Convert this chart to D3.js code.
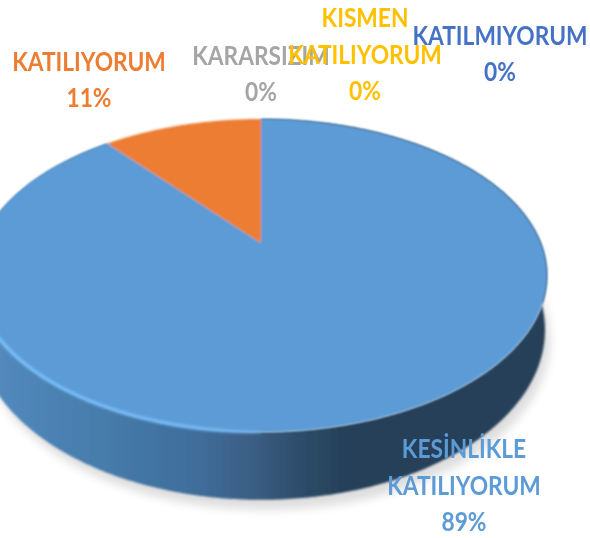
<!DOCTYPE html>
<html>
<head>
<meta charset="utf-8">
<script src="https://cdn.jsdelivr.net/npm/d3@7"></script>
<style>
  html, body { margin: 0; padding: 0; background: #fff; overflow: hidden; }
  text { font-family: Lato, "Open Sans", sans-serif; font-weight: 700; }
</style>
</head>
<body>
<svg id="svgId"></svg>
<script>
const categories = ['KESİNLİKLE KATILIYORUM', 'KATILIYORUM', 'KARARSIZIM', 'KISMEN KATILIYORUM', 'KATILMIYORUM'];
const values = [89, 11, 0, 0, 0];
const colors = ['#5b9bd5', '#ed7d31', '#a5a5a5', '#ffc000', '#4472c4'];

const width = 590;
const height = 538;

// label anchor = centre x and baseline of the last line (the percent)
const labelAnchors = [[464, 531], [89, 107], [261, 101], [365, 100], [500, 81]];
const labelLines = [['KESİNLİKLE', 'KATILIYORUM'], ['KATILIYORUM'], ['KARARSIZIM'], ['KISMEN', 'KATILIYORUM'], ['KATILMIYORUM']];

const svg = d3.select('#svgId').attr('width', width).attr('height', height);
const defs = svg.append('defs');

// perspective disc: unit circle through a small homography
const topDisc = { cx: 261, b: 243, a: 99.3, s: 279.8, k: 0.2077 };
const lowDisc = { cx: 261, b: 294.6, a: 101.4, s: 277.8, k: 0.2077 };

function project(disc, theta) {
    const x = Math.sin(theta);
    const y = -Math.cos(theta);
    const w = 1 - disc.k * y;
    return [disc.cx + disc.s * x / w, (disc.b + disc.a * y) / w];
}

function sampleAngles(a0, a1) {
    const n = Math.max(2, Math.ceil((a1 - a0) / 0.01));
    return d3.range(n + 1).map(i => a0 + (a1 - a0) * i / n);
}

const pie = d3.pie().sort(null).value(d => d);
const arcs = pie(values);
const line = d3.line();

// gradients
const wallGrad = defs.append('linearGradient').attr('id', 'wallGrad')
    .attr('gradientUnits', 'userSpaceOnUse')
    .attr('x1', 0).attr('x2', 340).attr('y1', 0).attr('y2', 0);
[[0, '#5289bd'], [0.3, '#467cab'], [0.6, '#3f6c98'], [0.76, '#3a5c80'], [0.87, '#2e4e6c'], [1, '#27415a']].forEach(s => {
    wallGrad.append('stop').attr('offset', s[0]).attr('stop-color', s[1]);
});

const rimGrad = defs.append('linearGradient').attr('id', 'rimGrad')
    .attr('gradientUnits', 'userSpaceOnUse')
    .attr('x1', 0).attr('x2', 310).attr('y1', 0).attr('y2', 0);
[[0, '#72bcfb', 1], [0.65, '#6fb7f6', 1], [1, '#6fb7f6', 0]].forEach(s => {
    rimGrad.append('stop').attr('offset', s[0]).attr('stop-color', s[1]).attr('stop-opacity', s[2]);
});

defs.append('filter').attr('id', 'shadowBlur')
    .attr('x', '-10%').attr('y', '-10%').attr('width', '120%').attr('height', '120%')
    .append('feGaussianBlur').attr('stdDeviation', 5);
defs.append('filter').attr('id', 'soft')
    .attr('x', '-5%').attr('y', '-5%').attr('width', '110%').attr('height', '110%')
    .append('feGaussianBlur').attr('stdDeviation', 1);
defs.append('filter').attr('id', 'rimBlur')
    .attr('x', '-5%').attr('y', '-5%').attr('width', '110%').attr('height', '110%')
    .append('feGaussianBlur').attr('stdDeviation', 1.5);
defs.append('filter').attr('id', 'textSoft')
    .attr('x', '-5%').attr('y', '-20%').attr('width', '110%').attr('height', '140%')
    .append('feGaussianBlur').attr('stdDeviation', 0.45);

const fullCircle = sampleAngles(0, 2 * Math.PI);

// shadow under the disc
svg.append('path')
    .attr('d', line(fullCircle.map(t => project(lowDisc, t))) + 'Z')
    .attr('transform', 'translate(5, 10)')
    .attr('fill', '#000')
    .attr('opacity', 0.13)
    .attr('filter', 'url(#shadowBlur)');

// side wall of the blue slice
const wallAngles = sampleAngles(arcs[0].startAngle, arcs[0].endAngle);
const wallPoints = wallAngles.map(t => project(topDisc, t))
    .concat(wallAngles.slice().reverse().map(t => project(lowDisc, t)));
svg.append('path')
    .attr('d', line(wallPoints) + 'Z')
    .attr('fill', 'url(#wallGrad)')
    .attr('filter', 'url(#soft)');

// top faces
const slices = svg.append('g').attr('filter', 'url(#soft)');
arcs.forEach((d, i) => {
    if (d.value === 0) return;
    const pts = [[topDisc.cx, topDisc.b]]
        .concat(sampleAngles(d.startAngle, d.endAngle).map(t => project(topDisc, t)));
    slices.append('path')
        .attr('d', line(pts) + 'Z')
        .attr('fill', colors[i]);
});

// light bevel along the front-left rim
svg.append('path')
    .attr('d', line(sampleAngles(Math.PI, 1.55 * Math.PI).map(t => project(topDisc, t))))
    .attr('fill', 'none')
    .attr('stroke', 'url(#rimGrad)')
    .attr('stroke-width', 3.5)
    .attr('filter', 'url(#rimBlur)');

// labels, squeezed sideways because the original face is narrower
const fontSize = 26;
const lineGap = 36.5;
const squeeze = 0.875;
const labels = svg.append('g').attr('text-anchor', 'middle').attr('filter', 'url(#textSoft)');
categories.forEach((c, i) => {
    const lines = labelLines[i].concat([`${values[i]}%`]);
    const [lx, ly] = labelAnchors[i];
    lines.forEach((t, j) => {
        labels.append('text')
            .attr('transform', `translate(${lx}, ${ly - (lines.length - 1 - j) * lineGap}) scale(${squeeze}, 1)`)
            .attr('font-size', fontSize)
            .attr('fill', colors[i])
            .text(t);
    });
});
</script>
</body>
</html>
